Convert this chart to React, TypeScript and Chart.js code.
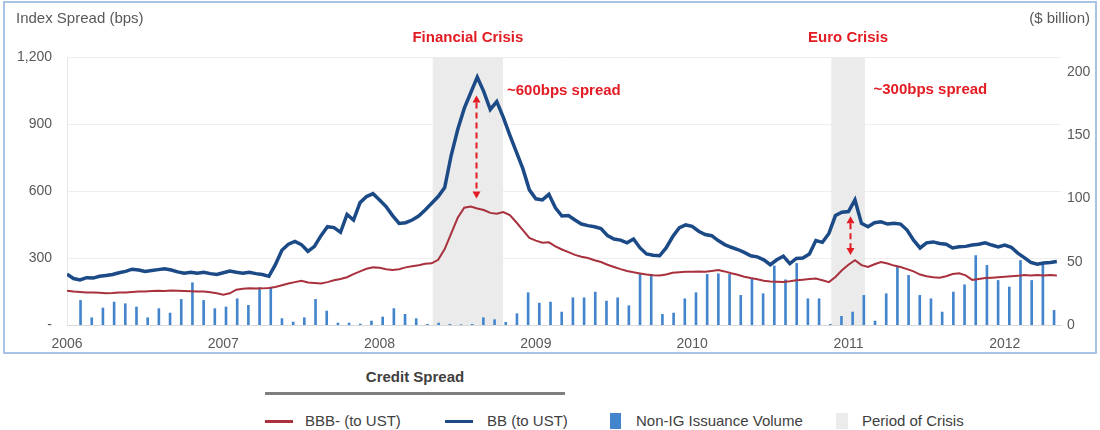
import React, { useEffect, useRef } from 'react';
import { Chart, registerables } from 'chart.js';

Chart.register(...registerables);

// ---------- DATA ----------
// Spread readings, half-monthly from Jan 2006
const SPREAD_START_YEAR = 2006;
const SPREAD_READINGS_PER_YEAR = 24;

const bbbSpread = [
  153, 150, 148, 146, 145, 144, 142, 143, 145, 146, 148, 150,
  150, 152, 153, 152, 154, 153, 152, 151, 150, 150, 147, 142,
  136, 142, 158, 162, 165, 163, 164, 166, 170, 178, 186, 192,
  198, 190, 188, 186, 192, 200, 206, 214, 228, 240, 252, 258,
  256, 250, 246, 250, 258, 263, 268, 274, 276, 292, 340, 410,
  480, 525, 530, 522, 515, 502, 498, 506, 492, 460, 425, 390,
  378, 368, 370, 352, 338, 326, 314, 306, 300, 290, 282, 270,
  260, 250, 242, 236, 231, 226, 223, 222, 226, 234, 236, 238,
  238, 240, 238, 242, 246, 240, 232, 225, 216, 210, 205, 198,
  195, 194, 193, 196, 200, 203, 206, 208, 200, 192, 215, 245,
  270, 290, 268, 260, 272, 282, 275, 266, 260, 250, 240, 226,
  218, 214, 212, 218, 228, 232, 222, 202, 206, 210, 212, 214,
  216, 218, 220, 224, 222, 224, 222, 224, 222,
];

const bbSpread = [
  228, 208, 202, 212, 210, 218, 222, 226, 234, 240, 250, 246,
  240, 244, 248, 252, 246, 238, 232, 236, 232, 236, 230, 226,
  234, 242, 236, 232, 236, 230, 226, 218, 270, 335, 362, 374,
  360, 330, 352, 400, 440, 436, 415, 495, 470, 548, 575, 588,
  560, 530, 490, 455, 458, 470, 488, 515, 545, 575, 615, 760,
  875, 970, 1040, 1110, 1045, 965, 1000, 930, 850, 775, 700, 605,
  565, 560, 585, 525, 488, 490, 470, 452, 445, 440, 432, 400,
  385, 380, 368, 385, 345, 318, 312, 310, 345, 395, 435, 448,
  442, 420, 405, 400, 378, 360, 348, 338, 325, 310, 305, 292,
  270, 292, 308, 275, 298, 300, 318, 378, 370, 410, 490, 505,
  508, 560, 455, 440, 458, 462, 452, 456, 452, 425, 380, 345,
  368, 372, 365, 362, 345, 350, 352, 358, 362, 368, 358, 350,
  358, 348, 322, 302, 280, 272, 278, 280, 284,
];

// Non-IG issuance volume ($ billion), one bar per period
const issuanceVolume = [
  19.7, 6, 13.7, 18.4, 17.1, 14.5, 6, 13.2, 9.7, 20.5, 33.7, 19.7,
  13.2, 14.5, 21, 15.8, 29.7, 29.7, 5.3, 2.6, 6, 20.5, 11.3, 1.8,
  1.8, 1, 3.4, 6.6, 13.2, 8.7, 5.3, 0.8, 1.8, 0.8, 0.5, 0.8,
  6, 4.5, 2.4, 9.2, 25.8, 17.6, 18.4, 10.5, 21.8, 21.8, 26.3, 19.2,
  21.8, 15.5, 40.3, 40.3, 8.7, 9.7, 21, 25.8, 40.3, 40.8, 40.3, 23.7,
  36.8, 25, 47, 36, 49, 21, 21, 0.8, 7.1, 10.5, 23.7, 3.4,
  25, 46, 39.5, 23.7, 21, 10.5, 26.3, 32.1, 55.2, 47.4, 35.5, 30.3,
  51.3, 35.5, 50, 11.8,
];

// Axis ranges / ticks
const yearMin = 2006;
const yearMax = 2012.36;
const spreadMax = 1200;
const spreadStep = 300;
const volumeMax = 212;
const volumeStep = 50;

// Crisis periods
const crisisLabels = ['Financial Crisis', 'Euro Crisis'];
const crisisStart = [2008.34, 2010.89];
const crisisEnd = [2008.79, 2011.105];

// Spread-gap annotations
const gapLabels = ['~600bps spread', '~300bps spread'];
const gapLabelYear = [2008.815, 2011.16];
const gapLabelBps = [1050, 1055];
const gapArrowYear = [2008.62, 2011.01];
const gapArrowTopBps = [1028, 487];
const gapArrowBottomBps = [566, 313];

// ---------- STYLE ----------
const FONT = '"Liberation Sans", Arial, Helvetica, sans-serif';
const RED_TEXT = '#e31b23';
const BBB_COLOR = '#a8313d';
const BB_COLOR = '#1b4a86';
const BAR_COLOR = '#4285cc';
const SHADE_COLOR = '#ebebeb';
const AXIS_TEXT = '#595959';
const LEGEND_TEXT = '#404040';

const spreadPoints = (values: number[]) =>
  values.map((v, i) => ({ x: SPREAD_START_YEAR + i / SPREAD_READINGS_PER_YEAR, y: v }));

const annotationPlugin = {
  id: 'crisisAnnotations',
  beforeDatasetsDraw(chart: any) {
    const { ctx, chartArea, scales } = chart;
    const xs = scales.x;
    ctx.save();
    ctx.fillStyle = SHADE_COLOR;
    crisisStart.forEach((s, i) => {
      const x0 = xs.getPixelForValue(s);
      const x1 = xs.getPixelForValue(crisisEnd[i]);
      ctx.fillRect(x0, chartArea.top, x1 - x0, chartArea.bottom - chartArea.top);
    });
    ctx.restore();
  },
  afterDatasetsDraw(chart: any) {
    const { ctx, chartArea, scales } = chart;
    const xs = scales.x;
    const ys = scales.y;
    ctx.save();
    ctx.font = `bold 15px ${FONT}`;
    ctx.fillStyle = RED_TEXT;
    ctx.textAlign = 'center';
    ctx.textBaseline = 'middle';
    crisisLabels.forEach((label, i) => {
      const cx = (xs.getPixelForValue(crisisStart[i]) + xs.getPixelForValue(crisisEnd[i])) / 2;
      ctx.fillText(label, cx, chartArea.top - 19);
    });
    ctx.textAlign = 'left';
    gapLabels.forEach((label, i) => {
      ctx.fillText(label, xs.getPixelForValue(gapLabelYear[i]), ys.getPixelForValue(gapLabelBps[i]));
    });
    const head = 7;
    gapArrowYear.forEach((yr, i) => {
      const px = Math.round(xs.getPixelForValue(yr)) + 0.5;
      const yTop = ys.getPixelForValue(gapArrowTopBps[i]);
      const yBot = ys.getPixelForValue(gapArrowBottomBps[i]);
      ctx.strokeStyle = RED_TEXT;
      ctx.lineWidth = 2;
      ctx.setLineDash([6, 4]);
      ctx.beginPath();
      ctx.moveTo(px, yTop + head);
      ctx.lineTo(px, yBot - head);
      ctx.stroke();
      ctx.setLineDash([]);
      ctx.fillStyle = RED_TEXT;
      ctx.beginPath();
      ctx.moveTo(px, yTop);
      ctx.lineTo(px - 4, yTop + head);
      ctx.lineTo(px + 4, yTop + head);
      ctx.closePath();
      ctx.fill();
      ctx.beginPath();
      ctx.moveTo(px, yBot);
      ctx.lineTo(px - 4, yBot - head);
      ctx.lineTo(px + 4, yBot - head);
      ctx.closePath();
      ctx.fill();
    });
    ctx.restore();
  },
};

export default function App() {
  const canvasRef = useRef<HTMLCanvasElement>(null);

  useEffect(() => {
    const canvas = canvasRef.current;
    if (!canvas) return;
    const chart = new Chart(canvas, {
      type: 'line',
      data: {
        datasets: [
          {
            type: 'line',
            label: 'BB (to UST)',
            data: spreadPoints(bbSpread),
            xAxisID: 'x',
            yAxisID: 'y',
            borderColor: BB_COLOR,
            borderWidth: 3.5,
            pointRadius: 0,
            tension: 0,
            order: 1,
          },
          {
            type: 'line',
            label: 'BBB- (to UST)',
            data: spreadPoints(bbbSpread),
            xAxisID: 'x',
            yAxisID: 'y',
            borderColor: BBB_COLOR,
            borderWidth: 2,
            pointRadius: 0,
            tension: 0,
            order: 2,
          },
          {
            type: 'bar',
            label: 'Non-IG Issuance Volume',
            data: issuanceVolume.map((v, i) => ({ x: i, y: v })),
            xAxisID: 'xb',
            yAxisID: 'y2',
            backgroundColor: BAR_COLOR,
            borderWidth: 0,
            barPercentage: 0.47,
            categoryPercentage: 1,
            order: 3,
          } as any,
        ],
      },
      options: {
        responsive: false,
        devicePixelRatio: 1,
        animation: false,
        events: [],
        layout: { padding: { top: 57, left: 0, right: 0, bottom: 0 } },
        plugins: {
          legend: { display: false },
          tooltip: { enabled: false },
          title: { display: false },
        },
        scales: {
          x: {
            type: 'linear',
            position: 'bottom',
            offset: false,
            min: yearMin,
            max: yearMax,
            grid: { display: false, drawTicks: false, offset: false },
            border: { display: true, color: '#d9d9d9', width: 1 },
            ticks: {
              stepSize: 1,
              includeBounds: false,
              autoSkip: false,
              maxRotation: 0,
              padding: 11,
              color: AXIS_TEXT,
              font: { family: FONT, size: 14 },
              callback: (v: any) => String(v),
            },
            afterFit: (s: any) => {
              s.height = 35;
            },
          },
          xb: {
            type: 'linear',
            display: false,
            offset: false,
            min: -0.96,
            max: 87.87,
            grid: { offset: false },
          },
          y: {
            type: 'linear',
            position: 'left',
            min: 0,
            max: spreadMax,
            grid: { color: '#eeeeee', drawTicks: false },
            border: { display: true, color: '#e6e6e6' },
            ticks: {
              stepSize: spreadStep,
              padding: 15,
              color: AXIS_TEXT,
              font: { family: FONT, size: 14 },
              callback: (v: any) => (Number(v) === 0 ? '-' : Number(v).toLocaleString('en-US')),
            },
            afterFit: (s: any) => {
              s.width = 67;
            },
          },
          y2: {
            type: 'linear',
            position: 'right',
            min: 0,
            max: volumeMax,
            grid: { display: false, drawTicks: false },
            border: { display: false },
            ticks: {
              stepSize: volumeStep,
              includeBounds: false,
              padding: 6,
              color: AXIS_TEXT,
              font: { family: FONT, size: 14 },
            },
            afterFit: (s: any) => {
              s.width = 39;
            },
          },
        },
      } as any,
      plugins: [annotationPlugin],
    });
    return () => chart.destroy();
  }, []);

  const legendText: React.CSSProperties = {
    position: 'absolute',
    top: 412,
    fontSize: 15,
    lineHeight: '18px',
    color: LEGEND_TEXT,
    whiteSpace: 'nowrap',
  };

  return (
    <div
      style={{
        position: 'fixed',
        left: 0,
        top: 0,
        width: 1100,
        height: 430,
        background: '#ffffff',
        fontFamily: FONT,
        overflow: 'hidden',
      }}
    >
      <div
        style={{
          position: 'absolute',
          left: 3,
          top: 1,
          width: 1094,
          height: 353,
          border: '2px solid #a9c3e2',
          boxSizing: 'border-box',
        }}
      />
      <canvas
        ref={canvasRef}
        width={1100}
        height={360}
        style={{ position: 'absolute', left: 0, top: 0, width: 1100, height: 360 }}
      />
      <div style={{ position: 'absolute', left: 16, top: 9, fontSize: 15, lineHeight: '18px', color: AXIS_TEXT }}>
        Index Spread (bps)
      </div>
      <div style={{ position: 'absolute', right: 10, top: 9, fontSize: 15, lineHeight: '18px', color: AXIS_TEXT }}>
        ($ billion)
      </div>

      <div
        style={{
          position: 'absolute',
          left: 265,
          width: 300,
          top: 368,
          textAlign: 'center',
          fontSize: 15,
          fontWeight: 'bold',
          lineHeight: '18px',
          color: LEGEND_TEXT,
        }}
      >
        Credit Spread
      </div>
      <div style={{ position: 'absolute', left: 265, top: 392, width: 300, height: 3, background: '#7f7f7f' }} />

      <div style={{ position: 'absolute', left: 265, top: 420, width: 28, height: 3, background: BBB_COLOR }} />
      <div style={{ ...legendText, left: 305 }}>BBB- (to UST)</div>

      <div style={{ position: 'absolute', left: 445, top: 420, width: 28, height: 3, background: BB_COLOR }} />
      <div style={{ ...legendText, left: 487 }}>BB (to UST)</div>

      <div style={{ position: 'absolute', left: 610, top: 413, width: 11, height: 16, background: BAR_COLOR }} />
      <div style={{ ...legendText, left: 636 }}>Non-IG Issuance Volume</div>

      <div style={{ position: 'absolute', left: 836, top: 413, width: 12, height: 16, background: SHADE_COLOR }} />
      <div style={{ ...legendText, left: 862 }}>Period of Crisis</div>
    </div>
  );
}
